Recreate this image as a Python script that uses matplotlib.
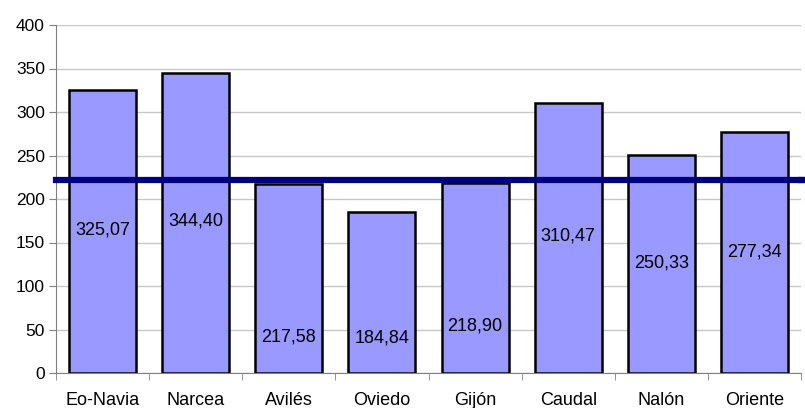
import matplotlib.pyplot as plt
import numpy as np

plt.rcParams['font.family'] = ['Liberation Sans', 'DejaVu Sans']

comarcas = ["Eo-Navia", "Narcea", "Avilés", "Oviedo", "Gijón", "Caudal", "Nalón", "Oriente"]
valores = [325.07, 344.40, 217.58, 184.84, 218.90, 310.47, 250.33, 277.34]
etiquetas = ["325,07", "344,40", "217,58", "184,84", "218,90", "310,47", "250,33", "277,34"]
media = 222
# altura donde aparece cada etiqueta dentro de la barra
etiqueta_y = [164, 175, 41, 40, 54, 157, 126, 139]

fig = plt.figure(figsize=(8.05, 4.08), dpi=100)
ax = fig.add_axes([56/805, 35/408, 745/805, 348/408])

x = np.arange(len(comarcas))
ax.bar(x, valores, width=0.72, color='#9999FF', edgecolor='black', linewidth=1.8, zorder=2)
for xi, t, yy in zip(x, etiquetas, etiqueta_y):
    ax.text(xi, yy, t, ha='center', va='center', fontsize=13, color='black', zorder=3)

ax.axhline(media, xmin=0, xmax=1, color='#000080', linewidth=4.5, zorder=4, clip_on=False)
ax.plot([7.5, 7.55], [media, media], color='#000080', linewidth=4.5, zorder=4, clip_on=False)

ax.set_xlim(-0.5, 7.5)
ax.set_ylim(0, 400)
ax.set_yticks(range(0, 401, 50))
ax.yaxis.grid(True, color='#C8C8C8', linewidth=1, zorder=0)
ax.set_axisbelow(True)

ax.set_xticks(x)
ax.set_xticklabels(comarcas, fontsize=13)
ax.set_xticks(np.arange(-0.5, 8, 1), minor=True)
ax.tick_params(axis='x', which='major', length=0, pad=14)
ax.tick_params(axis='x', which='minor', length=5, color='#808080')
ax.tick_params(axis='y', length=5, color='#808080', labelsize=12.5, pad=3)

for s in ['top', 'right']:
    ax.spines[s].set_visible(False)
for s in ['left', 'bottom']:
    ax.spines[s].set_color('#808080')

plt.savefig('out.png', dpi=100)
